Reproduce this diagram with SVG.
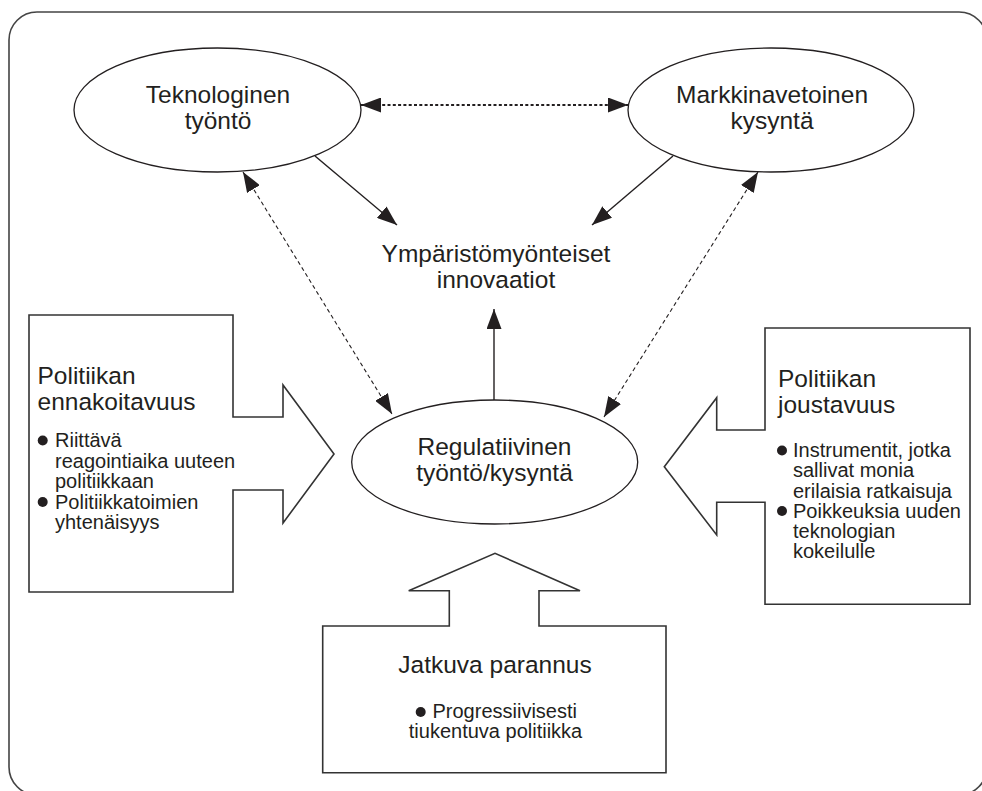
<svg xmlns="http://www.w3.org/2000/svg" width="982" height="791" viewBox="0 0 982 791">
<style>
.lbl{font-family:"Liberation Sans",Arial,Helvetica,sans-serif;font-size:24.5px;fill:#231f20}
.sm{font-family:"Liberation Sans",Arial,Helvetica,sans-serif;font-size:20px;fill:#231f20}
.mid{text-anchor:middle}
.ell{fill:#fff;stroke:#231f20;stroke-width:1.3}
.box{fill:#fff;stroke:#333;stroke-width:1.6;stroke-linejoin:miter}
.solid{stroke:#231f20;stroke-width:1.4;fill:none}
.dash{stroke:#231f20;stroke-width:1.1;stroke-dasharray:4 3;fill:none}
.dot{stroke:#231f20;stroke-width:2;stroke-dasharray:3 2.3;fill:none}
.bul{fill:#231f20}
</style>
<defs>
<marker id="ah" markerUnits="userSpaceOnUse" markerWidth="20" markerHeight="15" refX="20" refY="7.5" orient="auto-start-reverse" viewBox="0 0 20 15">
<path d="M0,0 L20,7.5 L0,15 z" fill="#231f20"/>
</marker>
</defs>
<rect x="9" y="12" width="978" height="783" rx="28" ry="28" fill="#fff" stroke="#444" stroke-width="1.6"/>

<g id="connectors">
<line class="dot" x1="361" y1="105" x2="628" y2="105" marker-start="url(#ah)" marker-end="url(#ah)"/>
<line class="solid" x1="315" y1="156" x2="397" y2="225" marker-end="url(#ah)"/>
<line class="solid" x1="673" y1="156" x2="592" y2="225" marker-end="url(#ah)"/>
<line class="dash" x1="243" y1="172" x2="392" y2="414" marker-start="url(#ah)" marker-end="url(#ah)"/>
<line class="dash" x1="758" y1="172" x2="604" y2="417" marker-start="url(#ah)" marker-end="url(#ah)"/>
<line class="solid" x1="494" y1="400" x2="494" y2="309" marker-end="url(#ah)"/>
</g>

<g id="teknologinen">
<ellipse class="ell" cx="217.5" cy="110" rx="143.5" ry="62"/>
<text class="lbl mid" x="218" y="102.5">Teknologinen</text>
<text class="lbl mid" x="218" y="128.5">työntö</text>
</g>

<g id="markkinavetoinen">
<ellipse class="ell" cx="771" cy="110" rx="143" ry="62"/>
<text class="lbl mid" x="772" y="102.5">Markkinavetoinen</text>
<text class="lbl mid" x="772" y="128.5">kysyntä</text>
</g>

<g id="ymparisto">
<text class="lbl mid" x="496" y="262">Ympäristömyönteiset</text>
<text class="lbl mid" x="496" y="288">innovaatiot</text>
</g>

<g id="regulatiivinen">
<ellipse class="ell" cx="494.7" cy="462" rx="143" ry="62"/>
<text class="lbl mid" x="494.5" y="455">Regulatiivinen</text>
<text class="lbl mid" x="494.5" y="481">työntö/kysyntä</text>
</g>

<g id="ennakoitavuus">
<path class="box" d="M29,315 L233,315 L233,417 L283,417 L283,385 L334,454 L283,523 L283,490 L233,490 L233,592 L29,592 Z"/>
<text class="lbl" x="37.5" y="384">Politiikan</text>
<text class="lbl" x="37.5" y="410">ennakoitavuus</text>
<circle class="bul" cx="42.7" cy="440.5" r="5"/>
<text class="sm" x="55" y="447">Riittävä</text>
<text class="sm" x="55" y="467.5">reagointiaika uuteen</text>
<text class="sm" x="55" y="488">politiikkaan</text>
<circle class="bul" cx="42.7" cy="502" r="5"/>
<text class="sm" x="55" y="508.5">Politiikkatoimien</text>
<text class="sm" x="55" y="529">yhtenäisyys</text>
</g>

<g id="joustavuus">
<path class="box" d="M970,328 L765,328 L765,430 L716.7,430 L716.7,397.7 L664.3,466.7 L716.7,535 L716.7,502.3 L765,502.3 L765,604.3 L970,604.3 Z"/>
<text class="lbl" x="778" y="387">Politiikan</text>
<text class="lbl" x="778" y="413">joustavuus</text>
<circle class="bul" cx="782" cy="450.5" r="5"/>
<text class="sm" x="793" y="457">Instrumentit, jotka</text>
<text class="sm" x="793" y="477">sallivat monia</text>
<text class="sm" x="793" y="497.5">erilaisia ratkaisuja</text>
<circle class="bul" cx="782" cy="511" r="5"/>
<text class="sm" x="793" y="517.5">Poikkeuksia uuden</text>
<text class="sm" x="793" y="538">teknologian</text>
<text class="sm" x="793" y="558">kokeilulle</text>
</g>

<g id="jatkuva">
<path class="box" d="M322.7,626 L449.3,626 L449.3,590.7 L408.7,590.7 L495,553.3 L580,590.7 L539,590.7 L539,626 L666,626 L666,772.7 L322.7,772.7 Z"/>
<text class="lbl mid" x="495" y="672.7">Jatkuva parannus</text>
<circle class="bul" cx="420.7" cy="712" r="5"/>
<text class="sm" x="432.5" y="718.3">Progressiivisesti</text>
<text class="sm mid" x="495.5" y="738.3">tiukentuva politiikka</text>
</g>
</svg>
